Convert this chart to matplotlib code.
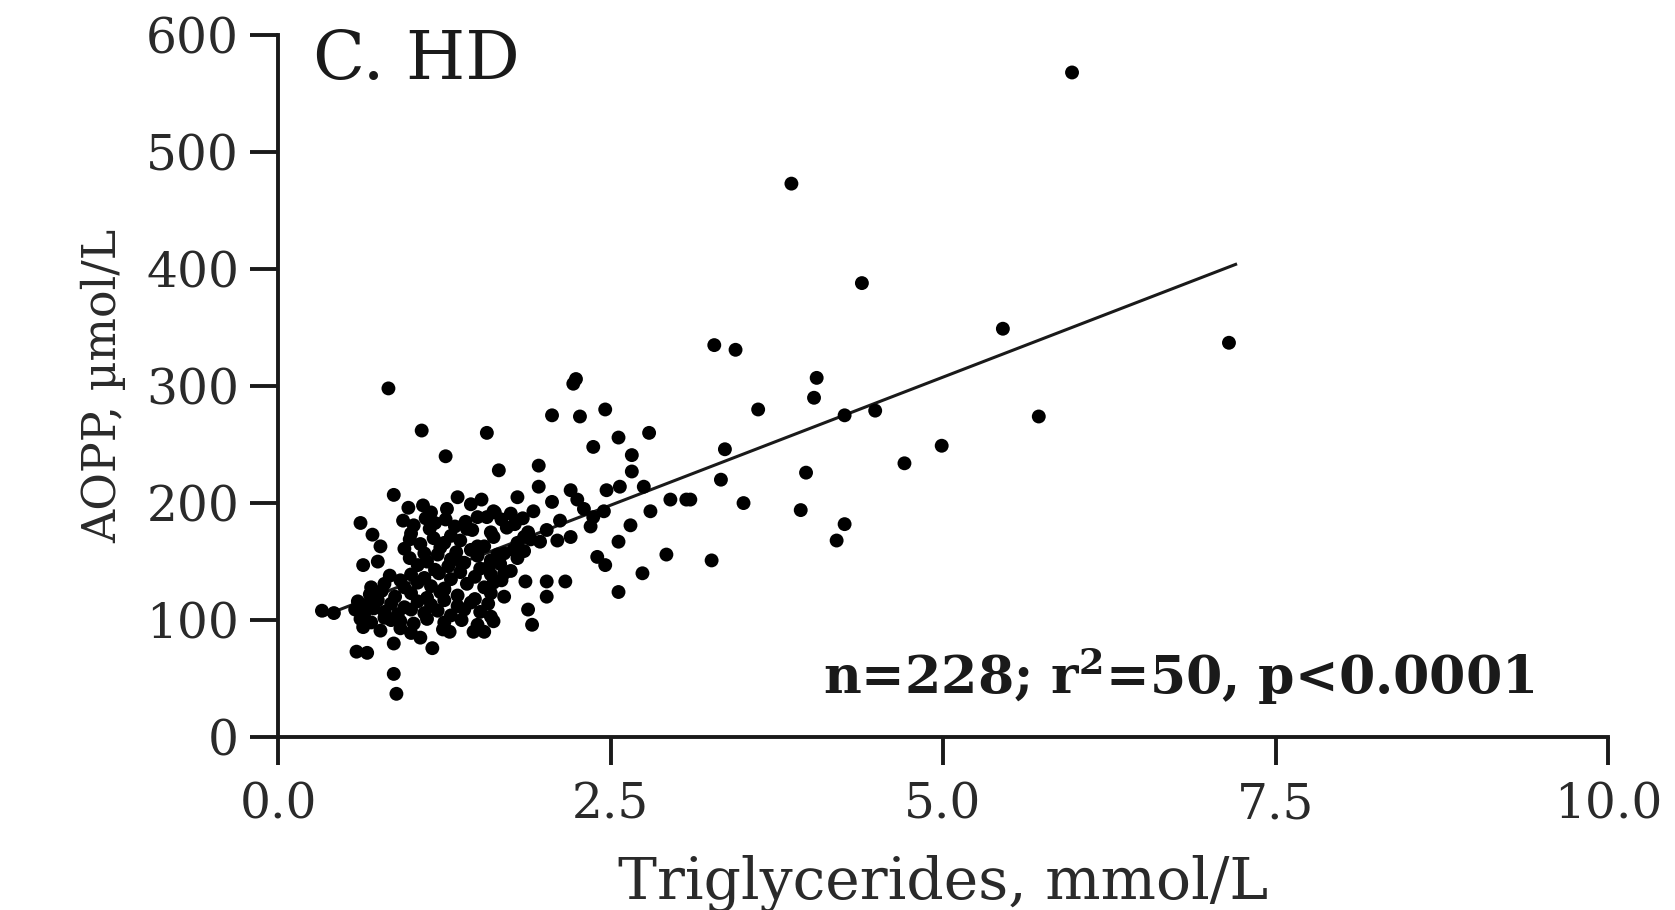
import numpy as np
import matplotlib
matplotlib.use('Agg')
import matplotlib.pyplot as plt

# triglycerides (mmol/L) vs AOPP (umol/L), HD patients
tg_sparse = [5.97, 3.86, 4.39, 5.45, 7.15, 3.28, 3.44, 4.05, 4.03, 3.61,
             4.49, 4.26, 5.72, 3.36, 3.33, 4.99, 4.71, 3.97, 3.10, 3.50,
             3.93, 4.26, 4.20, 3.26, 0.83, 2.22, 2.24, 2.06, 2.27, 2.46,
             1.08, 1.57, 2.56, 2.79, 2.37, 1.26, 2.66, 2.66, 1.66, 1.96,
             1.96, 0.87, 1.80, 2.06, 2.20, 2.25, 2.47, 2.57, 2.75, 2.95,
             3.07, 2.80, 2.37, 2.45, 2.35, 2.65, 2.56, 2.92, 2.40, 2.46,
             2.74, 2.56, 2.16, 2.02, 2.02, 1.86, 1.88, 1.91, 2.10, 2.20,
             2.02, 1.97, 1.77, 0.87, 0.89, 0.59, 0.67, 0.87, 1.16, 1.47,
             1.29, 0.33, 0.42, 0.62, 0.71, 0.77, 0.64, 0.84, 0.92]
aopp_sparse = [568, 473, 388, 349, 337, 335, 331, 307, 290, 280,
               279, 275, 274, 246, 220, 249, 234, 226, 203, 200,
               194, 182, 168, 151, 298, 302, 306, 275, 274, 280,
               262, 260, 256, 260, 248, 240, 241, 227, 228, 232,
               214, 207, 205, 201, 211, 203, 211, 214, 214, 203,
               203, 193, 188, 193, 180, 181, 167, 156, 154, 147,
               140, 124, 133, 133, 120, 133, 109, 96, 168, 171,
               177, 167, 160, 54, 37, 73, 72, 80, 76, 90,
               90, 108, 106, 183, 173, 163, 147, 138, 134]

# dense cluster, roughly row by row
tg_cluster = [1.09, 1.27, 1.45, 1.62,
              1.57, 1.63, 1.68, 1.75, 1.84, 1.92,
              0.94, 1.02, 1.11, 1.18, 1.26, 1.33, 1.41, 1.50,
              1.00, 1.14, 1.30, 1.46, 1.60, 1.72, 1.85,
              0.99, 1.07, 1.17, 1.25, 1.37, 1.50, 1.62, 1.80, 1.90,
              0.95, 1.10, 1.22, 1.34, 1.45, 1.55, 1.65, 1.85,
              0.99, 1.12, 1.20, 1.30, 1.38, 1.50, 1.60, 1.70, 1.80,
              1.05, 1.18, 1.28, 1.40, 1.52, 1.58, 1.67, 1.75,
              1.00, 1.10, 1.21, 1.30, 1.37, 1.48, 1.60, 1.68,
              0.80, 0.95, 1.05, 1.15, 1.25, 1.42, 1.55, 1.62,
              0.69, 0.78, 0.88, 1.00, 1.12, 1.22, 1.35, 1.48, 1.60, 1.70,
              0.60, 0.67, 0.75, 0.85, 0.95, 1.05, 1.15, 1.25, 1.35, 1.45, 1.58,
              0.58, 0.65, 0.72, 0.80, 0.90, 1.00, 1.10, 1.20, 1.30, 1.40, 1.52, 1.60,
              0.62, 0.70, 0.80, 0.92, 1.02, 1.12, 1.25, 1.38, 1.50, 1.62,
              0.64, 0.77, 0.92, 1.00, 1.24, 1.55,
              1.35, 1.53, 1.78, 1.88, 2.12, 2.30, 0.98, 1.15, 1.42, 0.75,
              0.70, 0.85, 1.07, 1.70, 1.25]
aopp_cluster = [198, 195, 199, 193,
                188, 192, 186, 191, 187, 193,
                185, 181, 187, 183, 186, 180, 184, 188,
                174, 178, 172, 177, 175, 179, 171,
                169, 165, 170, 166, 168, 163, 171, 166, 169,
                161, 157, 162, 158, 160, 163, 156, 159,
                153, 150, 156, 152, 149, 155, 151, 157, 153,
                147, 143, 146, 149, 144, 145, 148, 142,
                139, 136, 140, 135, 141, 137, 139, 134,
                131, 128, 132, 129, 127, 131, 128, 132,
                122, 125, 120, 123, 119, 124, 121, 118, 123, 120,
                116, 113, 117, 114, 111, 116, 113, 117, 112, 115, 114,
                109, 106, 110, 107, 105, 109, 106, 108, 104, 109, 107, 103,
                101, 98, 102, 99, 97, 101, 98, 100, 96, 99,
                94, 91, 93, 89, 92, 90,
                205, 203, 182, 175, 185, 195, 196, 192, 178, 150,
                128, 100, 85, 140, 126]

# regression line as drawn
fit_x = [0.35, 7.2]
fit_y = [104, 404]

x_ticks = [0.0, 2.5, 5.0, 7.5, 10.0]
x_ticklabels = ['0.0', '2.5', '5.0', '7.5', '10.0']
y_ticks = [0, 100, 200, 300, 400, 500, 600]

tg = np.array(tg_sparse + tg_cluster)
aopp = np.array(aopp_sparse + aopp_cluster)

plt.rcParams['font.family'] = ['DejaVu Serif']
plt.rcParams['mathtext.fontset'] = 'dejavuserif'
ink = '#1a1a1a'
grey = '#2a2a2a'

fig = plt.figure(figsize=(16.75, 9.1), dpi=100)
ax = fig.add_axes([0.166, 0.190, 0.794, 0.7715])

ax.scatter(tg, aopp, s=100, color='black', edgecolors='none', zorder=3)
ax.plot(fit_x, fit_y, color=ink, linewidth=2.2, zorder=2)

ax.set_xlim(0, 10)
ax.set_ylim(0, 600)
ax.set_xticks(x_ticks)
ax.set_xticklabels(x_ticklabels)
ax.set_yticks(y_ticks)

for side in ['top', 'right']:
    ax.spines[side].set_visible(False)
for side in ['left', 'bottom']:
    ax.spines[side].set_linewidth(2.8)
    ax.spines[side].set_color(ink)

ax.tick_params(axis='both', direction='out', length=20, width=2.8,
               color=ink, labelcolor=grey, labelsize=35)
ax.tick_params(axis='y', pad=8)
ax.tick_params(axis='x', pad=12)

ax.set_xlabel('Triglycerides, mmol/L', fontsize=42, color=grey, labelpad=19)
ax.set_ylabel('AOPP, µmol/L', fontsize=33, color=grey, labelpad=14)

ax.text(0.26, 562, 'C. HD', fontsize=49, color=ink, ha='left', va='baseline')
ax.text(4.10, 37, r'n=228; r$^{\mathbf{2}}$=50, p<0.0001', fontsize=37.5,
        fontweight='bold', color=ink, ha='left', va='baseline')

fig.savefig('out.png', dpi=100)
